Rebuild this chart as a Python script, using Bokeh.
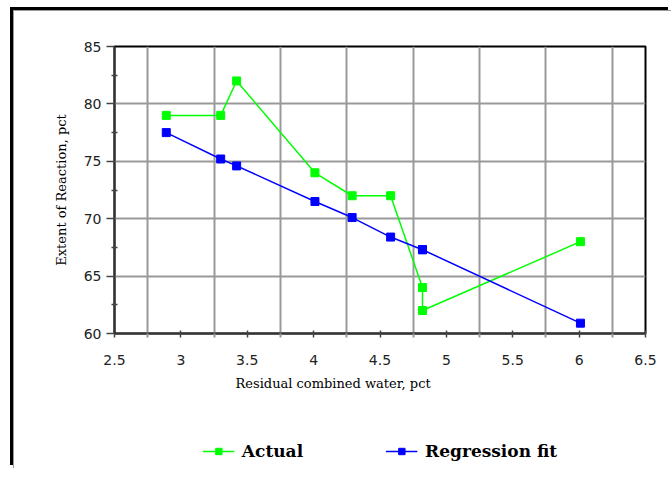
from bokeh.plotting import figure
from bokeh.layouts import column
from bokeh.models import Range1d, FixedTicker, Legend, LegendItem, Title
from bokeh.embed import file_html
from bokeh.resources import INLINE

# ---- data ----
water = [2.89, 3.30, 3.42, 4.01, 4.29, 4.58, 4.82, 4.82, 6.01]
actual = [79, 79, 82, 74, 72, 72, 64, 62, 68]
fit = [77.5, 75.2, 74.6, 71.5, 70.1, 68.4, 67.3, 67.3, 60.9]
x_ticks = [2.5, 3, 3.5, 4, 4.5, 5, 5.5, 6, 6.5]
x_grid = [2.75, 3.25, 3.75, 4.25, 4.75, 5.25, 5.75, 6.25]
y_ticks = [60, 65, 70, 75, 80, 85]
y_minor = [62.5, 67.5, 72.5, 77.5, 82.5]
x_title = "Residual combined water, pct"
y_title = "Extent of Reaction, pct"
series_names = ["Actual", "Regression fit"]
colors = ["#00ff00", "#0000ff"]

p = figure(frame_width=531, frame_height=287, output_backend="svg", toolbar_location=None,
           x_range=Range1d(2.5, 6.5), y_range=Range1d(60, 85),
           min_border_left=100, min_border_right=26, min_border_top=35, min_border_bottom=75)
p.outline_line_color = "black"
p.outline_line_width = 2
p.background_fill_color = "white"
p.border_fill_color = "white"

# axes
xa = p.xaxis[0]
xa.ticker = FixedTicker(ticks=x_ticks, minor_ticks=x_grid)
xa.major_tick_in = 3
xa.major_tick_out = 4
xa.minor_tick_in = 0
xa.minor_tick_out = 4
xa.minor_tick_line_color = "#999999"
xa.minor_tick_line_width = 2
xa.major_label_standoff = 17
ya = p.yaxis[0]
ya.ticker = FixedTicker(ticks=y_ticks, minor_ticks=y_minor)
ya.major_tick_in = 0
ya.major_tick_out = 8
ya.minor_tick_in = 3
ya.minor_tick_out = 3
ya.major_label_standoff = 5
ya.axis_label = y_title
ya.axis_label_standoff = 12
ya.axis_label_text_font = "DejaVu Serif"
ya.axis_label_text_font_style = "normal"
ya.axis_label_text_font_size = "13px"
ya.axis_label_text_color = "black"
for ax in (xa, ya):
    ax.axis_line_color = "#333333"
    ax.axis_line_width = 2
    ax.major_tick_line_color = "#444444"
    ax.major_tick_line_width = 1.5
    ax.major_label_text_font = "DejaVu Sans"
    ax.major_label_text_font_size = "14px"
    ax.major_label_text_color = "#222222"
ya.minor_tick_line_color = "#444444"
ya.minor_tick_line_width = 1.5

p.xgrid.ticker = FixedTicker(ticks=x_grid)
p.ygrid.ticker = FixedTicker(ticks=y_ticks)
for g in (p.xgrid, p.ygrid):
    g.grid_line_color = "#999999"
    g.grid_line_width = 2

# x title (offset to the left of centre, as in the reference)
p.add_layout(Title(text=x_title, align="left", offset=121, standoff=12,
                   text_font="DejaVu Serif", text_font_style="normal",
                   text_font_size="13px", text_color="black"), "below")

# series
for ys, c in zip([actual, fit], colors):
    p.line(water, ys, line_color=c, line_width=1.5)
    p.scatter(water, ys, marker="square", size=8, fill_color=c, line_color=c)

# legend strip below the chart (its own frame, so nothing is clipped)
leg = figure(width=657, height=60, output_backend="svg", toolbar_location=None,
             x_range=Range1d(0, 1), y_range=Range1d(0, 1),
             x_axis_type=None, y_axis_type=None,
             min_border_left=100, min_border_right=26, min_border_top=0, min_border_bottom=0)
leg.grid.visible = False
leg.outline_line_color = None
leg.border_fill_color = "white"
items = []
for name, ys, c in zip(series_names, [actual, fit], colors):
    lr = leg.line(water, ys, line_color=c, line_width=1.5)
    sr = leg.scatter(water, ys, marker="square", size=8, fill_color=c, line_color=c)
    items.append(LegendItem(label=name, renderers=[lr, sr]))
legend = Legend(items=items, orientation="horizontal", location="top_center",
                padding=0, margin=33, spacing=82, glyph_width=32, glyph_height=16,
                label_standoff=8, border_line_color=None, background_fill_alpha=0,
                label_text_font="DejaVu Serif", label_text_font_style="bold",
                label_text_font_size="17px", label_text_color="black")
leg.add_layout(legend, "center")

layout = column(p, leg, spacing=0)
layout.styles = {"margin-left": "13px", "margin-top": "10px",
                 "border-top": "1px solid #999", "border-left": "1px solid #999",
                 "box-shadow": "-3px -3px 0 0 black"}

open("out.html", "w").write(file_html(layout, INLINE))
